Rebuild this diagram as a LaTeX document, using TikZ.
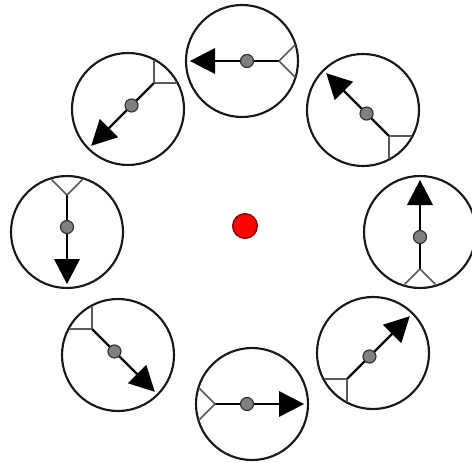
\documentclass[tikz,border=0pt]{standalone}
\begin{document}
\begin{tikzpicture}[x=0.75pt,y=0.75pt,
  ring/.style={circle,draw=black!90,line width=1.6pt,minimum size=84pt,inner sep=0pt},
  hubdot/.style={circle,fill=red,draw=red!50!black,line width=1pt,minimum size=18.5pt,inner sep=0pt},
  stem/.style={line width=2.2pt,draw=black},
  fork/.style={line width=1.2pt,draw=black!65},
  midot/.style={fill=black!50,draw=black!80,line width=0.9pt},
  glyph/.pic={
    \draw[stem] (-37,0) -- (28,0);
    \fill[black] (52,0) -- (27,13) -- (27,-13) -- cycle;
    \draw[fork] (-37,0) -- ++(135:23);
    \draw[fork] (-37,0) -- ++(-135:23);
    \draw[midot] (-5,0) circle (6.5);
  }]
\useasboundingbox (0,0) rectangle (472,462);
\node[ring] (c1) at (242,401) {};
\node[ring] (c2) at (363,352) {};
\node[ring] (c3) at (420,230) {};
\node[ring] (c4) at (373,109) {};
\node[ring] (c5) at (252,58) {};
\node[ring] (c6) at (118,107) {};
\node[ring] (c7) at (67,230) {};
\node[ring] (c8) at (128,353) {};
\node[hubdot] (hub) at (245,236) {};
\pic[rotate=180] at (c1.center) {glyph};
\pic[rotate=135,stem/.append style={line width=1.6pt}] at (c2.center) {glyph};
\pic[rotate=90] at (c3.center) {glyph};
\pic[rotate=45,stem/.append style={line width=1.6pt}] at (c4.center) {glyph};
\pic[rotate=0] at (c5.center) {glyph};
\pic[rotate=-45,stem/.append style={line width=1.6pt}] at (c6.center) {glyph};
\pic[rotate=-90] at (c7.center) {glyph};
\pic[rotate=-135,stem/.append style={line width=1.6pt}] at (c8.center) {glyph};
\end{tikzpicture}
\end{document}
